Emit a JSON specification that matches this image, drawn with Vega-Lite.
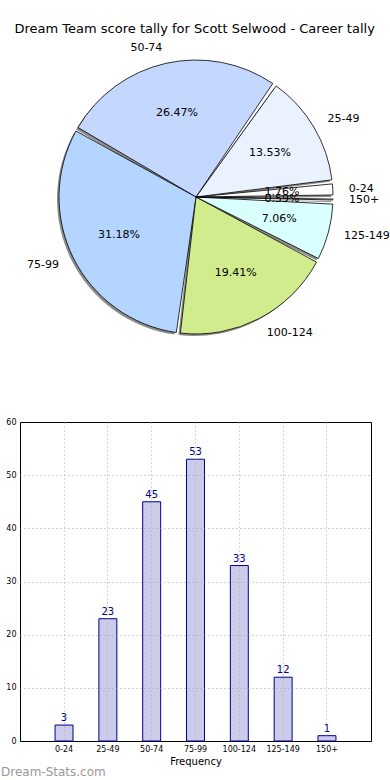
{
  "$schema": "https://vega.github.io/schema/vega-lite/v6.json",
  "padding": {"left": 0, "right": 0, "top": 22, "bottom": 0},
  "background": "white",
  "datasets": {
    "tally": [
      {"cat": "0-24", "n": 3, "pct": "1.76%", "i": 0},
      {"cat": "25-49", "n": 23, "pct": "13.53%", "i": 1},
      {"cat": "50-74", "n": 45, "pct": "26.47%", "i": 2},
      {"cat": "75-99", "n": 53, "pct": "31.18%", "i": 3},
      {"cat": "100-124", "n": 33, "pct": "19.41%", "i": 4},
      {"cat": "125-149", "n": 12, "pct": "7.06%", "i": 5},
      {"cat": "150+", "n": 1, "pct": "0.59%", "i": 6}
    ]
  },
  "title": {"text": "Dream Team score tally for Scott Selwood - Career tally", "font": "DejaVu Sans", "fontSize": 13, "fontWeight": "normal", "color": "black", "anchor": "start", "dx": 14, "offset": 6},
  "spacing": 65,
  "config": {
    "font": "DejaVu Sans",
    "view": {"stroke": "black", "strokeWidth": 1}
  },
  "vconcat": [
    {
      "width": 352,
      "height": 310,
      "view": {"stroke": null},
      "data": {"name": "tally"},
      "encoding": {
        "theta": {"field": "n", "type": "quantitative", "stack": true, "scale": {"range": [1.5708, -4.7124]}},
        "order": {"field": "i", "type": "quantitative"},
        "color": {
          "field": "cat", "type": "nominal", "legend": null,
          "scale": {
            "domain": ["0-24", "25-49", "50-74", "75-99", "100-124", "125-149", "150+"],
            "range": ["#ffffff", "#eaf1ff", "#c4d7ff", "#b4d5ff", "#d1ec8c", "#d9ffff", "#ffffff"]
          }
        }
      },
      "layer": [
        {
          "mark": {"type": "arc", "outerRadius": 137, "padAngle": 0.03, "xOffset": -2, "yOffset": 2},
          "encoding": {"color": {"value": "#8c8c8c"}}
        },
        {
          "mark": {"type": "arc", "outerRadius": 137, "padAngle": 0.03, "stroke": "black", "strokeWidth": 0.8}
        },
        {
          "mark": {"type": "text", "radius": 86, "fontSize": 11, "font": "DejaVu Sans"},
          "encoding": {"text": {"field": "pct"}, "color": {"value": "black"}}
        },
        {
          "mark": {"type": "text", "radius": 153, "fontSize": 11, "font": "DejaVu Sans",
            "align": {"expr": "indexof(['50-74','75-99'], datum.cat) >= 0 ? 'right' : 'left'"}},
          "encoding": {"text": {"field": "cat"}, "color": {"value": "black"}}
        }
      ]
    },
    {
      "width": 351,
      "height": 319,
      "data": {"name": "tally"},
      "title": {"text": "Dream-Stats.com", "orient": "bottom", "anchor": "start", "frame": "bounds", "font": "DejaVu Sans", "fontSize": 12, "fontWeight": "normal", "color": "#999999", "offset": 1},
      "encoding": {
        "x": {
          "field": "cat", "type": "ordinal", "sort": {"field": "i"},
          "scale": {"paddingInner": 0.59, "paddingOuter": 0.8},
          "axis": {"labelAngle": 0, "title": "Frequency", "titleFontSize": 10, "titleFontWeight": "normal", "titleFont": "DejaVu Sans", "titlePadding": 3,
            "labelFont": "DejaVu Sans", "labelFontSize": 8, "labelPadding": 4, "ticks": false, "domain": false,
            "grid": true, "gridDash": [1, 3], "gridColor": "#a8a8a8", "zindex": 1}
        }
      },
      "layer": [
        {
          "mark": {"type": "bar", "fill": "#ccccea", "stroke": "#00008b", "strokeWidth": 1},
          "encoding": {
            "y": {"field": "n", "type": "quantitative", "scale": {"domain": [0, 60]},
              "axis": {"values": [0, 10, 20, 30, 40, 50, 60], "title": null, "labelFont": "DejaVu Sans", "labelFontSize": 8, "labelPadding": 4,
                "ticks": false, "domain": false, "grid": true, "gridDash": [1, 3], "gridColor": "#a8a8a8",
                "gridOpacity": {"condition": {"test": "datum.value == 0 || datum.value == 60", "value": 0}, "value": 1},
                "minExtent": 19, "maxExtent": 19, "zindex": 1}}
          }
        },
        {
          "mark": {"type": "text", "dy": -7, "color": "#00008b", "fontSize": 10, "font": "DejaVu Sans"},
          "encoding": {
            "y": {"field": "n", "type": "quantitative"},
            "text": {"field": "n", "type": "quantitative"}
          }
        }
      ]
    }
  ]
}
